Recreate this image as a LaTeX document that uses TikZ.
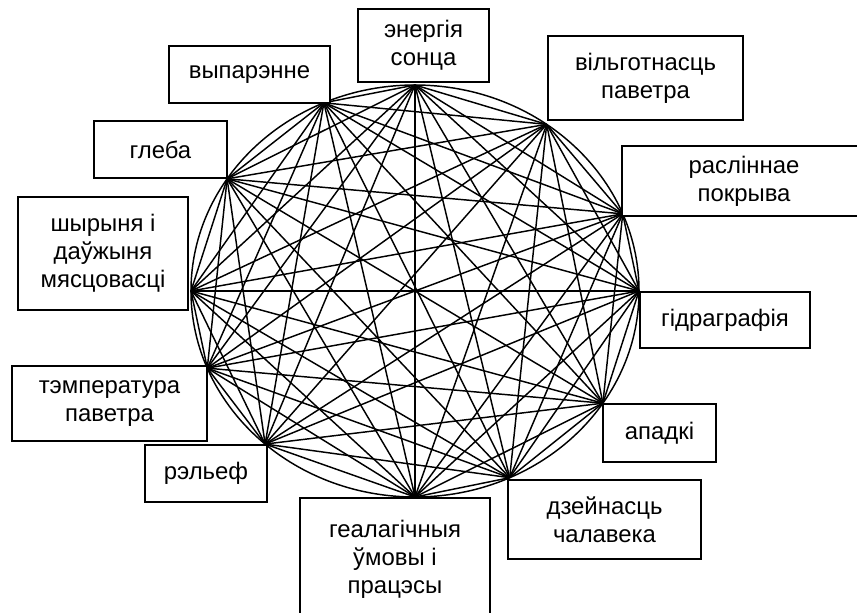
\documentclass[tikz,border=0pt]{standalone}
\usepackage{fontspec}
\setmainfont{Liberation Sans}
\usepackage{tikz}

\begin{document}
\begin{tikzpicture}[
  font=\fontsize{18}{21}\selectfont,
  chord/.style={line width=1.1pt},
  factor/.style={draw, line width=1.1pt, fill=white, align=center, inner sep=0},
]
\useasboundingbox (-10.98,-8.493) rectangle (11.694,7.699);
% --- punkty na elipsie ---
\foreach \i/\a in {1/90,2/54,3/22,4/0,5/-33,6/-65,7/-90,8/228,9/202,10/180,11/147,12/114}
  \coordinate (p\i) at (\a:5.927cm and 5.450cm);
% ===================== ELIPSA I CIECIWY =====================
\draw[chord] (0,0) ellipse (5.927 and 5.450);
\foreach \i in {1,...,11} { \pgfmathtruncatemacro\n{\i+1} \foreach \j in {\n,...,12} { \draw[chord] (p\i) -- (p\j); } }
% ===================== CZYNNIKI =====================
\node[factor, minimum width=3.466cm, minimum height=1.931cm] (sonca) at (0.225,6.495) {энергія\\сонца};
\node[factor, minimum width=5.159cm, minimum height=2.222cm] (vilhotnasc) at (6.099,5.636) {вільготнасць\\паветра};
\node[factor, minimum width=6.456cm, minimum height=1.852cm] (pokryva) at (8.705,2.910) {расліннае\\покрыва};
\node[factor, minimum width=4.498cm, minimum height=1.482cm] (hidra) at (8.202,-0.767) {гідраграфія};
\node[factor, minimum width=2.990cm, minimum height=1.535cm] (apadki) at (6.469,-3.757) {ападкі};
\node[factor, minimum width=5.106cm, minimum height=2.090cm] (chalavek) at (5.014,-6.046) {дзейнасць\\чалавека};
\node[factor, minimum width=5.027cm, minimum height=3.228cm] (heal) at (-0.529,-7.091) {геалагічныя\\ўмовы і\\працэсы};
\node[factor, minimum width=3.228cm, minimum height=1.508cm] (relef) at (-5.530,-4.829) {рэльеф};
\node[factor, minimum width=5.159cm, minimum height=1.984cm] (temp) at (-8.083,-2.977) {тэмпература\\паветра};
\node[factor, minimum width=4.498cm, minimum height=2.990cm] (shyrynia) at (-8.255,0.992) {шырыня і\\даўжыня\\мясцовасці};
\node[factor, minimum width=3.519cm, minimum height=1.508cm] (hleba) at (-6.734,3.744) {глеба};
\node[factor, minimum width=4.260cm, minimum height=1.508cm] (vyparenne) at (-4.379,5.728) {выпарэнне};
\end{tikzpicture}
\end{document}
